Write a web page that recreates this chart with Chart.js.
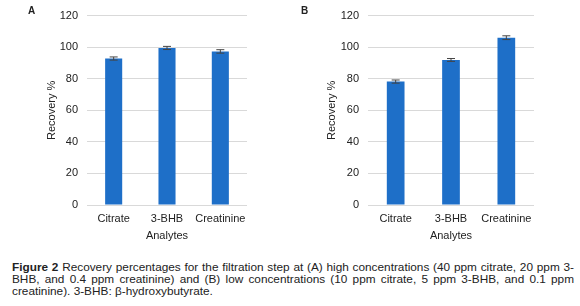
<!DOCTYPE html>
<html>
<head>
<meta charset="utf-8">
<script src="https://cdn.jsdelivr.net/npm/chart.js@4.4.1/dist/chart.umd.min.js"></script>
<style>
  html, body { margin: 0; padding: 0; background: #fff; }
  body { width: 580px; height: 306px; position: relative; overflow: hidden; font-family: "Liberation Sans", Arial, sans-serif; }
  .cv { position: absolute; top: 0; }
  .panel { position: absolute; font-weight: bold; font-size: 10px; color: #222; }
  #caption { position: absolute; left: 12px; top: 261px; width: 562px; font-size: 11.8px; line-height: 12px; color: #222; }
  #caption .ln { text-align: justify; text-align-last: justify; white-space: nowrap; }
  #caption .ln.last { text-align-last: left; }
</style>
</head>
<body>
<canvas id="cA" class="cv" style="left:0px" width="290" height="248"></canvas>
<canvas id="cB" class="cv" style="left:290px" width="290" height="248"></canvas>
<div class="panel" style="left:28px;top:5px">A</div>
<div class="panel" style="left:301px;top:5px">B</div>
<div id="caption">
  <div class="ln"><b>Figure 2</b> Recovery percentages for the filtration step at (A) high concentrations (40 ppm citrate, 20 ppm 3-</div>
  <div class="ln">BHB, and 0.4 ppm creatinine) and (B) low concentrations (10 ppm citrate, 5 ppm 3-BHB, and 0.1 ppm</div>
  <div class="ln last">creatinine). 3-BHB: β-hydroxybutyrate.</div>
</div>
<script>
const categories = ["Citrate", "3-BHB", "Creatinine"];
const recoveryA = [92.8, 99.5, 97.3];
const errorA = [1.0, 1.0, 1.1];
const recoveryB = [78.2, 91.9, 106.0];
const errorB = [1.0, 0.9, 1.2];
const yTicks = [0, 20, 40, 60, 80, 100, 120];
const yTitle = "Recovery %";
const xTitle = "Analytes";

const errorBarPlugin = {
  id: 'errbars',
  afterDatasetsDraw(chart) {
    const ctx = chart.ctx;
    const ys = chart.scales.y;
    chart.data.datasets.forEach((ds, di) => {
      const meta = chart.getDatasetMeta(di);
      meta.data.forEach((bar, i) => {
        const v = ds.data[i], e = ds.errors[i];
        const x = bar.x;
        const yHi = ys.getPixelForValue(v + e);
        const yLo = ys.getPixelForValue(v - e);
        ctx.save();
        ctx.strokeStyle = '#444';
        ctx.lineWidth = 1;
        ctx.beginPath();
        ctx.moveTo(x, yHi); ctx.lineTo(x, yLo);
        ctx.moveTo(x - 4, yHi); ctx.lineTo(x + 4, yHi);
        ctx.moveTo(x - 4, yLo); ctx.lineTo(x + 4, yLo);
        ctx.stroke();
        ctx.restore();
      });
    });
  }
};

function makeChart(id, values, errors, padLeft, padRight, yWidth, padTop) {
  const font = { family: '"Liberation Sans", Arial, sans-serif', size: 11 };
  return new Chart(document.getElementById(id), {
    type: 'bar',
    data: {
      labels: categories,
      datasets: [{
        data: values,
        errors: errors,
        backgroundColor: '#1e6fc8',
        borderWidth: 0,
        barPercentage: 0.32,
        categoryPercentage: 1.0
      }]
    },
    options: {
      responsive: false,
      animation: false,
      events: [],
      layout: { padding: { left: padLeft, right: padRight, top: padTop, bottom: 0 } },
      plugins: { legend: { display: false }, tooltip: { enabled: false } },
      scales: {
        x: {
          grid: { display: false, drawTicks: false },
          border: { display: false },
          ticks: { font: font, color: '#222', padding: 7, maxRotation: 0 },
          title: { display: true, text: xTitle, font: font, color: '#222', padding: { top: 2, bottom: 5 } },
          afterFit(s) { s.height = 248 - 205; }
        },
        y: {
          min: 0, max: 120,
          afterBuildTicks(s) { s.ticks = yTicks.map(v => ({ value: v })); },
          grid: { color: '#d9d9d9', drawTicks: false, lineWidth: 1 },
          border: { display: false },
          ticks: { font: font, color: '#222', padding: 9 },
          title: { display: true, text: yTitle, font: font, color: '#222', padding: { top: 6, bottom: 0 } },
          afterFit(s) { s.width = yWidth; }
        }
      }
    },
    plugins: [errorBarPlugin]
  });
}

makeChart('cA', recoveryA, errorA, 39, 43, 48, 11);
makeChart('cB', recoveryB, errorB, 29, 46, 49, 12);
</script>
</body>
</html>
